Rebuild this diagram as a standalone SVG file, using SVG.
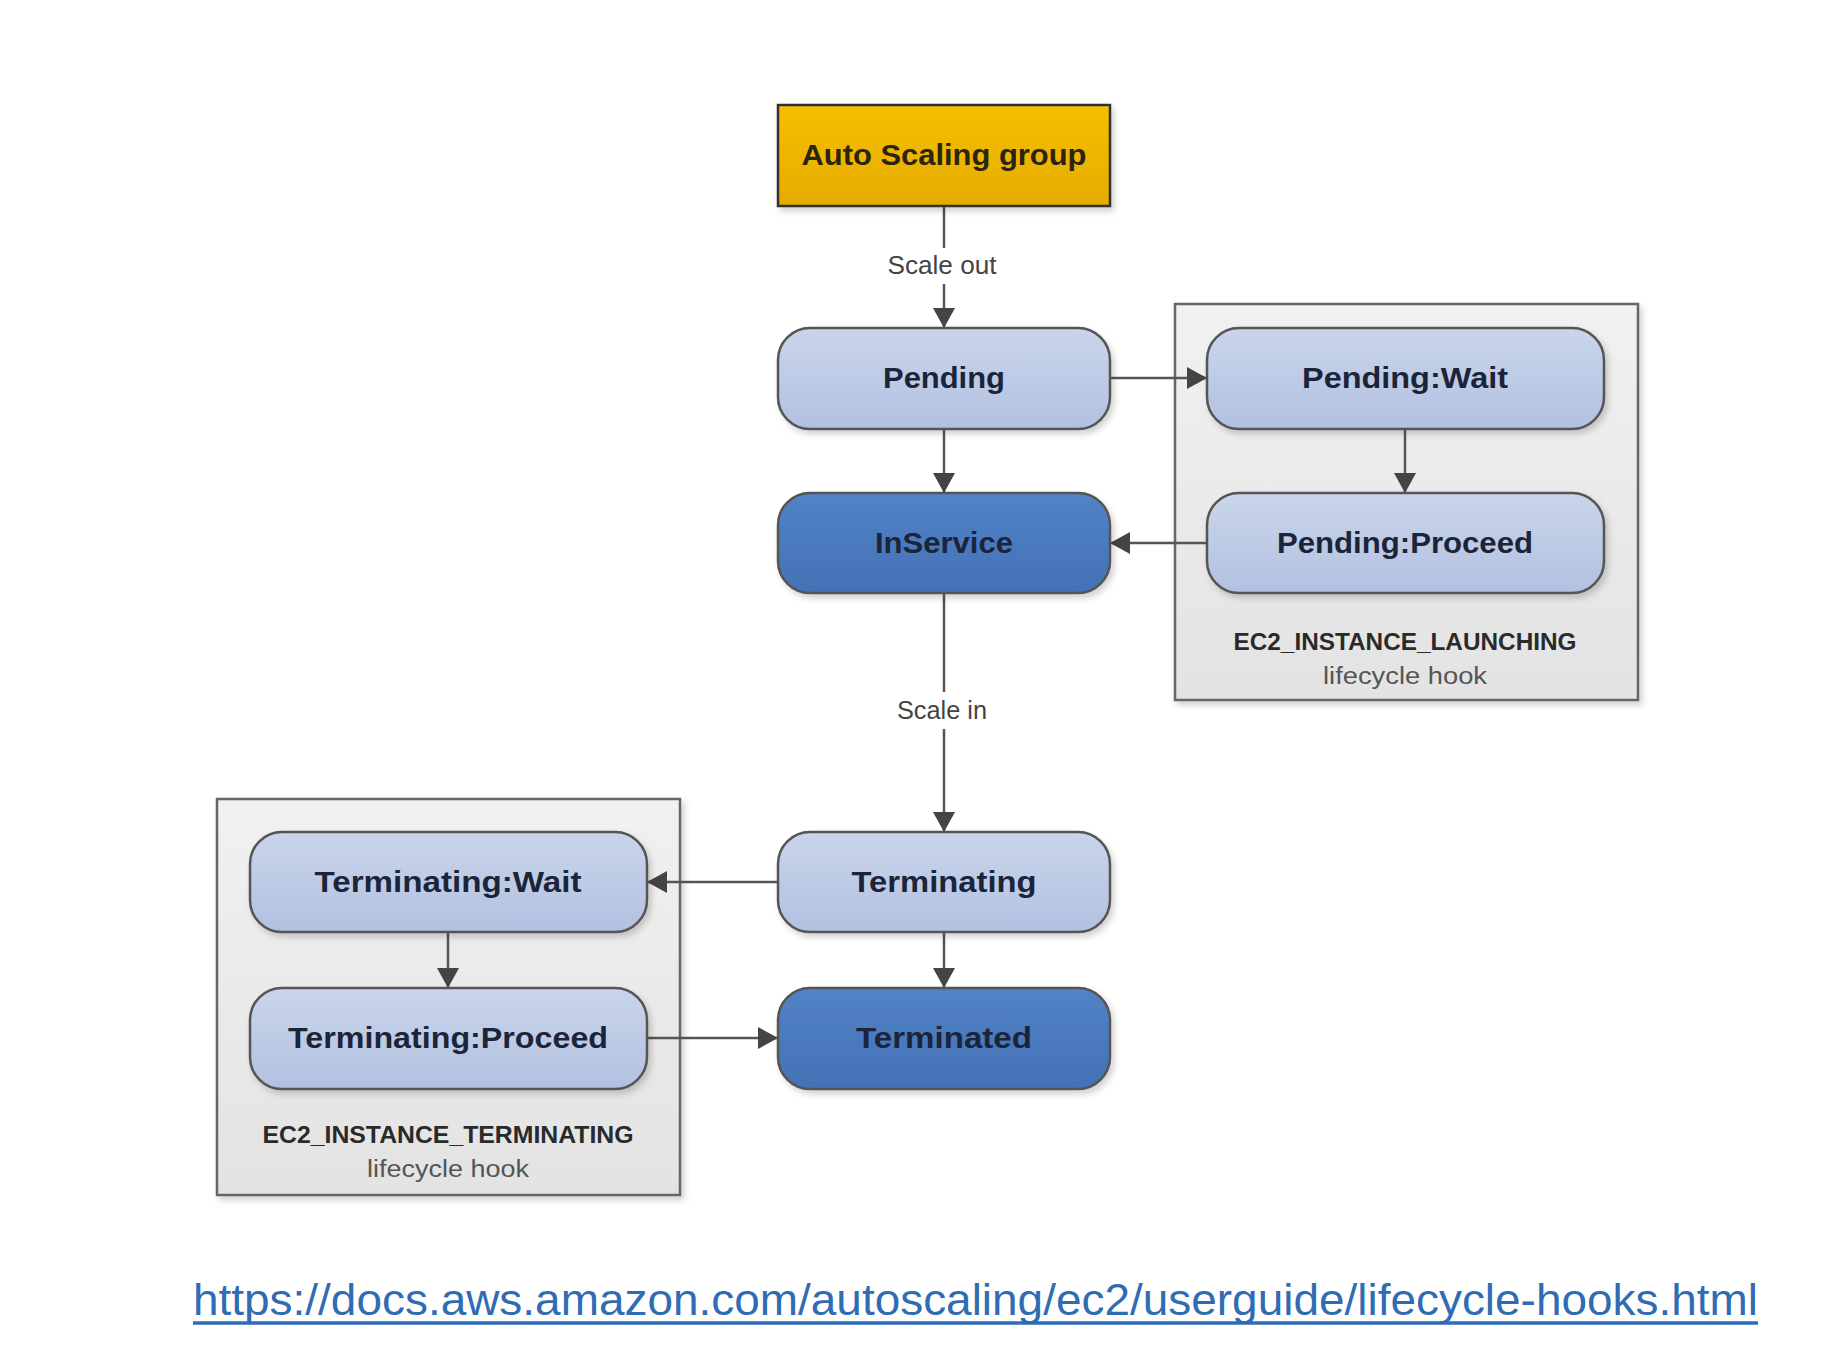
<svg xmlns="http://www.w3.org/2000/svg" width="1832" height="1366" viewBox="0 0 1832 1366">
  <defs>
    <linearGradient id="gLight" x1="0" y1="0" x2="0" y2="1">
      <stop offset="0" stop-color="#cad5eb"/>
      <stop offset="1" stop-color="#b2c1e1"/>
    </linearGradient>
    <linearGradient id="gDark" x1="0" y1="0" x2="0" y2="1">
      <stop offset="0" stop-color="#5283c6"/>
      <stop offset="1" stop-color="#4371b5"/>
    </linearGradient>
    <linearGradient id="gGold" x1="0" y1="0" x2="0" y2="1">
      <stop offset="0" stop-color="#f7bf00"/>
      <stop offset="1" stop-color="#e5ab00"/>
    </linearGradient>
    <linearGradient id="gGray" x1="0" y1="0" x2="0" y2="1">
      <stop offset="0" stop-color="#f1f1f1"/>
      <stop offset="1" stop-color="#e3e3e3"/>
    </linearGradient>
    <filter id="shadow" x="-10%" y="-10%" width="125%" height="130%">
      <feDropShadow dx="3" dy="4" stdDeviation="3" flood-color="#000" flood-opacity="0.18"/>
    </filter>
    <marker id="arrow" viewBox="0 0 20 22" refX="20" refY="11" markerWidth="20" markerHeight="22" markerUnits="userSpaceOnUse" orient="auto">
      <path d="M0,0 L20,11 L0,22 Z" fill="#444"/>
    </marker>
  </defs>
  <style>
    .node { stroke: #555; stroke-width: 2.5; filter: url(#shadow); }
    .light { fill: url(#gLight); }
    .dark { fill: url(#gDark); }
    .gold { fill: url(#gGold); stroke: #333; }
    .hook { fill: url(#gGray); stroke: #666; stroke-width: 2.5; filter: url(#shadow); }
    .label { font-family: "Liberation Sans", Arial, sans-serif; font-weight: bold; font-size: 29px; fill: #1b2438; text-anchor: middle; }
    .edge-label { font-family: "Liberation Sans", Arial, sans-serif; font-size: 25px; fill: #444; text-anchor: middle; }
    .hook-title { font-family: "Liberation Sans", Arial, sans-serif; font-weight: bold; font-size: 23px; fill: #2a2a2a; text-anchor: middle; }
    .hook-sub { font-family: "Liberation Sans", Arial, sans-serif; font-size: 23px; fill: #555; text-anchor: middle; }
    .conn { fill: none; stroke: #555; stroke-width: 2.5; }
    .url { font-family: "Liberation Sans", Arial, sans-serif; font-size: 44px; fill: #2f6cb4; }
  </style>
  <rect width="1832" height="1366" fill="#ffffff"/>

  <!-- lifecycle hook containers -->
  <g id="launching-hook">
    <rect class="hook" x="1175" y="304" width="463" height="396"/>
    <text class="hook-title" x="1405" y="650" textLength="343" lengthAdjust="spacingAndGlyphs">EC2_INSTANCE_LAUNCHING</text>
    <text class="hook-sub" x="1405" y="684" textLength="164" lengthAdjust="spacingAndGlyphs">lifecycle hook</text>
  </g>
  <g id="terminating-hook">
    <rect class="hook" x="217" y="799" width="463" height="396"/>
    <text class="hook-title" x="448" y="1143" textLength="371" lengthAdjust="spacingAndGlyphs">EC2_INSTANCE_TERMINATING</text>
    <text class="hook-sub" x="448" y="1177" textLength="162" lengthAdjust="spacingAndGlyphs">lifecycle hook</text>
  </g>

  <!-- connectors -->
  <g id="connectors">
    <path class="conn" d="M944,206 V248 M944,284 V328" marker-end="url(#arrow)"/>
    <path class="conn" d="M1110,378 H1207" marker-end="url(#arrow)"/>
    <path class="conn" d="M1405,429 V493" marker-end="url(#arrow)"/>
    <path class="conn" d="M944,429 V493" marker-end="url(#arrow)"/>
    <path class="conn" d="M1207,543 H1110" marker-end="url(#arrow)"/>
    <path class="conn" d="M944,593 V692 M944,729 V832" marker-end="url(#arrow)"/>
    <path class="conn" d="M778,882 H647" marker-end="url(#arrow)"/>
    <path class="conn" d="M448,932 V988" marker-end="url(#arrow)"/>
    <path class="conn" d="M944,932 V988" marker-end="url(#arrow)"/>
    <path class="conn" d="M647,1038 H778" marker-end="url(#arrow)"/>
    <text class="edge-label" x="942" y="274" textLength="109" lengthAdjust="spacingAndGlyphs">Scale out</text>
    <text class="edge-label" x="942" y="719" textLength="90" lengthAdjust="spacingAndGlyphs">Scale in</text>
  </g>

  <!-- nodes -->
  <g id="asg">
    <rect class="node gold" x="778" y="105" width="332" height="101"/>
    <text class="label" x="944" y="165" textLength="285" lengthAdjust="spacingAndGlyphs" style="fill:#2a2410">Auto Scaling group</text>
  </g>
  <g id="pending">
    <rect class="node light" x="778" y="328" width="332" height="101" rx="32"/>
    <text class="label" x="944" y="388" textLength="122" lengthAdjust="spacingAndGlyphs">Pending</text>
  </g>
  <g id="pending-wait">
    <rect class="node light" x="1207" y="328" width="397" height="101" rx="32"/>
    <text class="label" x="1405" y="388" textLength="206" lengthAdjust="spacingAndGlyphs">Pending:Wait</text>
  </g>
  <g id="pending-proceed">
    <rect class="node light" x="1207" y="493" width="397" height="100" rx="32"/>
    <text class="label" x="1405" y="553" textLength="256" lengthAdjust="spacingAndGlyphs">Pending:Proceed</text>
  </g>
  <g id="inservice">
    <rect class="node dark" x="778" y="493" width="332" height="100" rx="32"/>
    <text class="label" x="944" y="553" textLength="138" lengthAdjust="spacingAndGlyphs">InService</text>
  </g>
  <g id="terminating">
    <rect class="node light" x="778" y="832" width="332" height="100" rx="32"/>
    <text class="label" x="944" y="892" textLength="185" lengthAdjust="spacingAndGlyphs">Terminating</text>
  </g>
  <g id="terminated">
    <rect class="node dark" x="778" y="988" width="332" height="101" rx="32"/>
    <text class="label" x="944" y="1048" textLength="176" lengthAdjust="spacingAndGlyphs">Terminated</text>
  </g>
  <g id="terminating-wait">
    <rect class="node light" x="250" y="832" width="397" height="100" rx="32"/>
    <text class="label" x="448" y="892" textLength="267" lengthAdjust="spacingAndGlyphs">Terminating:Wait</text>
  </g>
  <g id="terminating-proceed">
    <rect class="node light" x="250" y="988" width="397" height="101" rx="32"/>
    <text class="label" x="448" y="1048" textLength="320" lengthAdjust="spacingAndGlyphs">Terminating:Proceed</text>
  </g>

  <!-- source link -->
  <g id="url">
    <text class="url" x="193" y="1315" textLength="1565" lengthAdjust="spacingAndGlyphs">https://docs.aws.amazon.com/autoscaling/ec2/userguide/lifecycle-hooks.html</text>
    <line x1="193" y1="1323" x2="1758" y2="1323" stroke="#2f6cb4" stroke-width="3.5"/>
  </g>
</svg>
